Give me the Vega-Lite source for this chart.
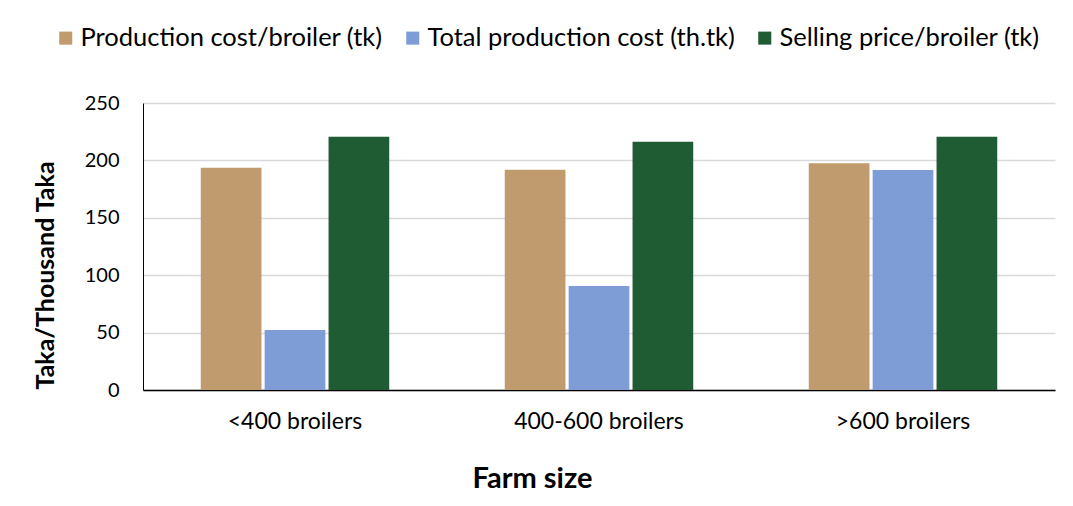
{
  "$schema": "https://vega.github.io/schema/vega-lite/v6.json",
  "width": 912,
  "height": 287,
  "autosize": {"type": "none"},
  "padding": {"left": 143, "top": 103, "right": 18, "bottom": 116},
  "background": "white",
  "config": {
    "font": "Lato",
    "view": {"stroke": null}
  },
  "data": {
    "values": [
      {"farm": "<400 broilers", "series": "Production cost/broiler (tk)", "value": 193.5},
      {"farm": "<400 broilers", "series": "Total production cost (th.tk)", "value": 52.3},
      {"farm": "<400 broilers", "series": "Selling price/broiler (tk)", "value": 220.5},
      {"farm": "400-600 broilers", "series": "Production cost/broiler (tk)", "value": 191.8},
      {"farm": "400-600 broilers", "series": "Total production cost (th.tk)", "value": 90.6},
      {"farm": "400-600 broilers", "series": "Selling price/broiler (tk)", "value": 216.2},
      {"farm": ">600 broilers", "series": "Production cost/broiler (tk)", "value": 197.6},
      {"farm": ">600 broilers", "series": "Total production cost (th.tk)", "value": 191.7},
      {"farm": ">600 broilers", "series": "Selling price/broiler (tk)", "value": 220.7}
    ]
  },
  "mark": {"type": "bar"},
  "encoding": {
    "x": {
      "field": "farm",
      "type": "nominal",
      "sort": ["<400 broilers", "400-600 broilers", ">600 broilers"],
      "scale": {"paddingInner": 0.38, "paddingOuter": 0.19},
      "axis": {
        "title": "Farm size",
        "titleFontSize": 29,
        "titleFontWeight": "bold",
        "titleColor": "black",
        "titleX": 389,
        "titleY": 88,
        "titleBaseline": "middle",
        "labelAngle": 0,
        "labelFontSize": 23,
        "labelColor": "black",
        "labelPadding": 20,
        "ticks": false,
        "domainColor": "black",
        "domainWidth": 1.5
      }
    },
    "xOffset": {
      "field": "series",
      "type": "nominal",
      "sort": ["Production cost/broiler (tk)", "Total production cost (th.tk)", "Selling price/broiler (tk)"],
      "scale": {"paddingInner": 0.05, "paddingOuter": 0}
    },
    "y": {
      "field": "value",
      "type": "quantitative",
      "scale": {"domain": [0, 250]},
      "axis": {
        "title": "Taka/Thousand Taka",
        "titleFontSize": 25,
        "titleFontWeight": "bold",
        "titleColor": "black",
        "titleX": -98,
        "titleY": 172,
        "titleBaseline": "middle",
        "titleAngle": 270,
        "values": [0, 50, 100, 150, 200, 250],
        "labelFontSize": 20,
        "labelColor": "black",
        "labelPadding": 24,
        "ticks": false,
        "domain": true,
        "domainColor": "black",
        "domainWidth": 1,
        "grid": true,
        "gridColor": "#d9d9d9",
        "gridWidth": 1.5
      }
    },
    "color": {
      "field": "series",
      "type": "nominal",
      "sort": ["Production cost/broiler (tk)", "Total production cost (th.tk)", "Selling price/broiler (tk)"],
      "scale": {
        "domain": ["Production cost/broiler (tk)", "Total production cost (th.tk)", "Selling price/broiler (tk)"],
        "range": ["#C09B6E", "#7E9CD6", "#1F5C33"]
      },
      "legend": {
        "title": null,
        "orient": "none",
        "direction": "horizontal",
        "legendX": -90,
        "legendY": -78,
        "labelFontSize": 25.5,
        "labelLimit": 0,
        "labelColor": "black",
        "symbolType": "square",
        "symbolSize": 170,
        "symbolStrokeWidth": 0,
        "columnPadding": 17,
        "labelOffset": 2
      }
    }
  }
}
